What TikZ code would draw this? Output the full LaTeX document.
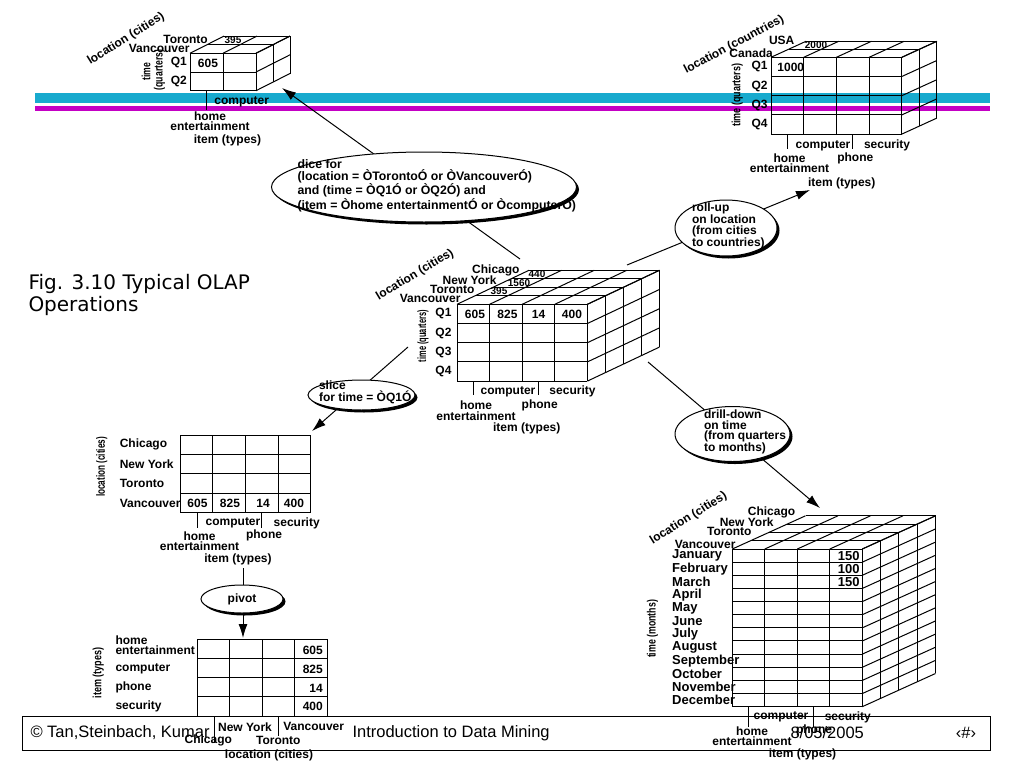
\documentclass[tikz,border=0pt]{standalone}
\usepackage{fontspec}
\setmainfont{Liberation Sans}
\newfontfamily\titlefont{DejaVu Sans}
\usepackage{tikz}
\usetikzlibrary{positioning}
\usetikzlibrary{shapes.geometric,shadows,arrows.meta,calc}
\definecolor{stripecyan}{RGB}{24,170,206}
\definecolor{stripemagenta}{RGB}{196,0,196}
\tikzset{
	lbl/.style = {font=\bfseries\fontsize{12}{12}\selectfont, inner sep=0pt},
	lbltwo/.style = {lbl, align=center, font=\bfseries\fontsize{12}{10.5}\selectfont},
	smalllbl/.style = {lbl, font=\bfseries\fontsize{10}{10}\selectfont},
	monthlbl/.style = {lbl, font=\bfseries\fontsize{13}{13}\selectfont},
	axislbl/.style = {lbl, rotate=90},
	footlbl/.style = {font=\fontsize{16.5}{17}\selectfont, inner sep=0pt},
	optext/.style = {lbl, align=left, font=\bfseries\fontsize{12}{10.3}\selectfont},
	oparrow/.style = {-{Latex[length=14pt,width=9pt]}, line width=1pt},
	opellipse/.style = {ellipse, draw, fill=white, line width=1pt, inner sep=0pt,
	  drop shadow={opacity=1, fill=black, shadow xshift=2.5pt, shadow yshift=-2.5pt}},
}
% narrow text for the upright axis labels
\newcommand{\narrow}[2][0.7]{\scalebox{#1}[1]{#2}}
% front, top and right faces of a data cube
% #1,#2 front top-left, #3 cols, #4 rows, #5 layers, #6 col width, #7 row height, #8,#9 layer offset
\newcommand{\olapgrid}[9]{%
  \foreach \i in {0,...,#3} \draw ({#1+\i*#6},{#2}) -- ({#1+\i*#6},{#2+#4*#7});
  \foreach \j in {0,...,#4} \draw ({#1},{#2+\j*#7}) -- ({#1+#3*#6},{#2+\j*#7});
  \ifnum#5>0
  \foreach \k in {1,...,#5} {
    \draw ({#1+\k*(#8)},{#2+\k*(#9)}) -- ({#1+#3*#6+\k*(#8)},{#2+\k*(#9)});
    \draw ({#1+#3*#6+\k*(#8)},{#2+\k*(#9)}) -- ({#1+#3*#6+\k*(#8)},{#2+#4*#7+\k*(#9)});
  }
  \foreach \i in {0,...,#3} \draw ({#1+\i*#6},{#2}) -- ({#1+\i*#6+#5*(#8)},{#2+#5*(#9)});
  \foreach \j in {0,...,#4} \draw ({#1+#3*#6},{#2+\j*#7}) -- ({#1+#3*#6+#5*(#8)},{#2+\j*#7+#5*(#9)});
  \fi
}
\begin{document}
\begin{tikzpicture}[x=1pt, y=-1pt, line width=1pt]
\useasboundingbox (0,0) rectangle (1024,768);

% banner stripes and footer
\fill[stripecyan] (35,93) rectangle (990,102.5);
\fill[stripemagenta] (35,106) rectangle (990,110.5);
\draw[fill=white] (22,716) rectangle (990,750);
\node[footlbl, anchor=west] (foot-auth) at (30,733) {© Tan,Steinbach, Kumar};
\node[footlbl, anchor=west] (foot-title) at (352,733) {Introduction to Data Mining};
\node[footlbl, anchor=west] (foot-date) at (790,733) {8/05/2005};
\node[footlbl] (foot-page) at (966,733) {‹\#›};

\node[anchor=west, align=left, inner sep=0pt, font=\titlefont\fontsize{20}{22}\selectfont]
  (fig-title) at (28,295) {Fig. 3.10 Typical OLAP\\Operations};

% connectors
\coordinate (dice-from) at (520,259);   \coordinate (dice-to) at (282,88);
\coordinate (rollup-from) at (627,265); \coordinate (rollup-to) at (810,190);
\coordinate (slice-from) at (408,347);  \coordinate (slice-to) at (312,431);
\coordinate (drill-from) at (648,362);  \coordinate (drill-to) at (820,508);
\coordinate (pivot-from) at (243,568);  \coordinate (pivot-to) at (243,638);
\draw[oparrow] (dice-from) -- (dice-to);
\draw[oparrow] (rollup-from) -- (rollup-to);
\draw[oparrow] (slice-from) -- (slice-to);
\draw[oparrow] (drill-from) -- (drill-to);
\draw[oparrow] (pivot-from) -- (pivot-to);

% operations
\node[opellipse, minimum width=305pt, minimum height=70pt] (dice) at (424,187) {};
\node[optext, right=26pt of dice.west, yshift=1.5pt, font=\bfseries\fontsize{12.3}{10.3}\selectfont] (dice-text)
  {dice for\\(location = ÒTorontoÓ or ÒVancouverÓ)\\and (time = ÒQ1Ó or ÒQ2Ó) and\\(item = Òhome entertainmentÓ or ÒcomputerÓ)};
\node[opellipse, minimum width=102pt, minimum height=56pt] (rollup) at (726,228) {};
\node[optext, right=17pt of rollup.west, yshift=2pt] (rollup-text)
  {roll-up\\on location\\(from cities\\to countries)};
\node[opellipse, minimum width=107pt, minimum height=30pt] (slice) at (361.5,395) {};
\node[optext, right=11pt of slice.west, yshift=2.5pt] (slice-text) {slice\\for time = ÒQ1Ó};
\node[opellipse, minimum width=115pt, minimum height=55pt] (drill) at (732.5,434) {};
\node[optext, right=29pt of drill.west, yshift=2pt] (drill-text)
  {drill-down\\on time\\(from quarters\\to months)};
\node[opellipse, minimum width=82pt, minimum height=28pt, font=\bfseries\fontsize{12}{12}\selectfont] (pivot) at (242,599) {pivot};

% central cube
\olapgrid{457}{304.3}{4}{4}{4}{32.6}{19.2}{18}{-8.5}
\foreach \q in {1,...,4}
  \node[lbl, anchor=east] (main-q\q) at (452,{304.3+(\q-0.5)*19.2}) {Q\q};
\node[lbl] (main-v1) at (475,314) {605};
\node[lbl] (main-v2) at (507.5,314) {825};
\node[lbl] (main-v3) at (538.5,314) {14};
\node[lbl] (main-v4) at (572,314) {400};
\node[lbl, anchor=east] (main-van) at (461,298) {Vancouver};
\node[lbl, anchor=east] (main-tor) at (475,289.3) {Toronto};
\node[lbl, anchor=east] (main-ny) at (497,280.7) {New York};
\node[lbl, anchor=east] (main-chi) at (520,270.7) {Chicago};
\node[smalllbl] (main-tor-v) at (499,291.5) {395};
\node[smalllbl] (main-ny-v) at (519,283) {1560};
\node[smalllbl] (main-chi-v) at (537,274.5) {440};
\node[axislbl] (main-time) at (423,336) {\narrow[0.62]{time (quarters)}};
\node[lbl, rotate=31] (main-loc) at (415,275) {location (cities)};
\draw (473.3,381) -- (473.3,395);
\draw (538.5,381) -- (538.5,395);
\node[lbl] (main-comp) at (508,391.7) {computer};
\node[lbl] (main-sec) at (572.5,391.7) {security};
\node[lbltwo] (main-home) at (476,410.5) {home\\entertainment};
\node[lbl] (main-phone) at (539.7,405) {phone};
\node[lbl] (main-item) at (526.7,428) {item (types)};

% dice result
\olapgrid{190}{53.3}{2}{2}{2}{33}{18.7}{17}{-8.6}
\foreach \q in {1,2}
  \node[lbl, anchor=east] (dice-q\q) at (187.3,{53.3+(\q-0.5)*18.7}) {Q\q};
\node[lbl] (dice-v1) at (208,63) {605};
\node[lbl, anchor=east] (dice-tor) at (208.3,39) {Toronto};
\node[lbl, anchor=east] (dice-van) at (190,48.3) {Vancouver};
\node[smalllbl] (dice-tor-v) at (233,40.4) {395};
\node[axislbl] (dice-time) at (146,71.5) {\narrow[0.72]{time}};
\node[axislbl] (dice-quart) at (159.5,70) {\narrow[0.72]{(quarters)}};
\node[lbl, rotate=32] (dice-loc) at (126,39) {location (cities)};
\draw (206.5,90.7) -- (206.5,110);
\node[lbl] (dice-comp) at (241.7,101.7) {computer};
\node[lbltwo] (dice-home) at (210,121) {home\\entertainment};
\node[lbl] (dice-item) at (227.5,140) {item (types)};

% roll-up result
\olapgrid{771}{57.3}{4}{4}{2}{32.7}{19.2}{17.5}{-8}
\foreach \q in {1,...,4}
  \node[lbl, anchor=east] (roll-q\q) at (768,{57.3+(\q-0.5)*19.2}) {Q\q};
\node[lbl] (roll-v1) at (790.8,67.3) {1000};
\node[lbl] (roll-usa) at (781.7,40) {USA};
\node[lbl, anchor=east] (roll-can) at (773.3,53.3) {Canada};
\node[smalllbl] (roll-usa-v) at (816,45.3) {2000};
\node[axislbl] (roll-time) at (737.3,95) {\narrow[0.75]{time (quarters)}};
\node[lbl, rotate=28] (roll-loc) at (734,45) {location (countries)};
\draw (787.4,134) -- (787.4,149);
\draw (852.7,134) -- (852.7,149);
\node[lbl] (roll-comp) at (823,145.7) {computer};
\node[lbl] (roll-sec) at (887,145.7) {security};
\node[lbltwo] (roll-home) at (789.5,163) {home\\entertainment};
\node[lbl] (roll-phone) at (855.3,158.3) {phone};
\node[lbl] (roll-item) at (841.7,183.3) {item (types)};

% slice result
\olapgrid{180}{435}{4}{4}{0}{32.7}{19.45}{0}{0}
\foreach \c [count=\r] in {Chicago,New York,Toronto,Vancouver}
  \node[lbl, anchor=west] (slice-r\r) at (119.3,{435+(\r-0.5)*19.45}) {\c};
\node[lbl] (slice-v1) at (197.5,503.3) {605};
\node[lbl] (slice-v2) at (230,503.3) {825};
\node[lbl] (slice-v3) at (263,503.3) {14};
\node[lbl] (slice-v4) at (294,503.3) {400};
\node[axislbl] (slice-loc) at (101.7,467) {\narrow[0.68]{location (cities)}};
\draw (197.3,512.8) -- (197.3,528);
\draw (261.5,512.8) -- (261.5,528);
\node[lbl] (slice-comp) at (233,523.3) {computer};
\node[lbl] (slice-sec) at (296.7,523.3) {security};
\node[lbltwo] (slice-home) at (199.5,541) {home\\entertainment};
\node[lbl] (slice-phone) at (264,535.7) {phone};
\node[lbl] (slice-item) at (238,559) {item (types)};

% pivot result
\olapgrid{197}{639}{4}{4}{0}{32.5}{19.25}{0}{0}
\node[lbl, anchor=west, align=left, font=\bfseries\fontsize{12}{9.5}\selectfont] (piv-r1) at (115,645) {home\\entertainment};
\node[lbl, anchor=west] (piv-r2) at (115,669) {computer};
\node[lbl, anchor=west] (piv-r3) at (115,687.7) {phone};
\node[lbl, anchor=west] (piv-r4) at (115,706.7) {security};
\node[lbl, anchor=east] (piv-v1) at (323.3,650) {605};
\node[lbl, anchor=east] (piv-v2) at (323.3,669) {825};
\node[lbl, anchor=east] (piv-v3) at (323.3,688.3) {14};
\node[lbl, anchor=east] (piv-v4) at (323.3,706) {400};
\node[axislbl] (piv-item) at (98.3,673) {\narrow[0.75]{item (types)}};
\draw (214,716) -- (214,743);
\draw (278.3,716) -- (278.3,736);
\node[lbl] (piv-ny) at (245,726.7) {New York};
\node[lbl] (piv-van) at (313.7,726.7) {Vancouver};
\node[lbl] (piv-chi) at (208.3,740) {Chicago};
\node[lbl] (piv-tor) at (278.3,740) {Toronto};
\node[lbl] (piv-loc) at (269,755) {location (cities)};

% drill-down result
\olapgrid{732.3}{549}{4}{12}{4}{32.5}{13.14}{18.3}{-8.3}
\foreach \m [count=\r] in {January,February,March,April,May,June,July,August,September,October,November,December}
  \node[monthlbl, anchor=west] (drill-m\r) at (671.7,{549+(\r-0.5)*13.14}) {\m};
\node[monthlbl, anchor=east] (drill-v1) at (860,555.6) {150};
\node[monthlbl, anchor=east] (drill-v2) at (860,568.7) {100};
\node[monthlbl, anchor=east] (drill-v3) at (860,581.9) {150};
\node[lbl, anchor=east] (drill-van) at (736,544.3) {Vancouver};
\node[lbl] (drill-tor) at (729.3,531.7) {Toronto};
\node[lbl] (drill-ny) at (746.7,522.3) {New York};
\node[lbl] (drill-chi) at (771.5,512.7) {Chicago};
\node[lbl, rotate=32] (drill-loc) at (688.5,518.5) {location (cities)};
\node[axislbl] (drill-time) at (652.5,629) {\narrow[0.73]{time (months)}};
\draw (748.6,706.7) -- (748.6,727);
\draw (813.6,706.7) -- (813.6,727);
\node[lbl] (drill-comp) at (781,717) {computer};
\node[lbl] (drill-sec) at (847.8,717) {security};
\node[lbltwo] (drill-home) at (752,736) {home\\entertainment};
\node[lbl] (drill-phone) at (814,730.7) {phone};
\node[lbl] (drill-item) at (802.5,754) {item (types)};
\end{tikzpicture}
\end{document}
